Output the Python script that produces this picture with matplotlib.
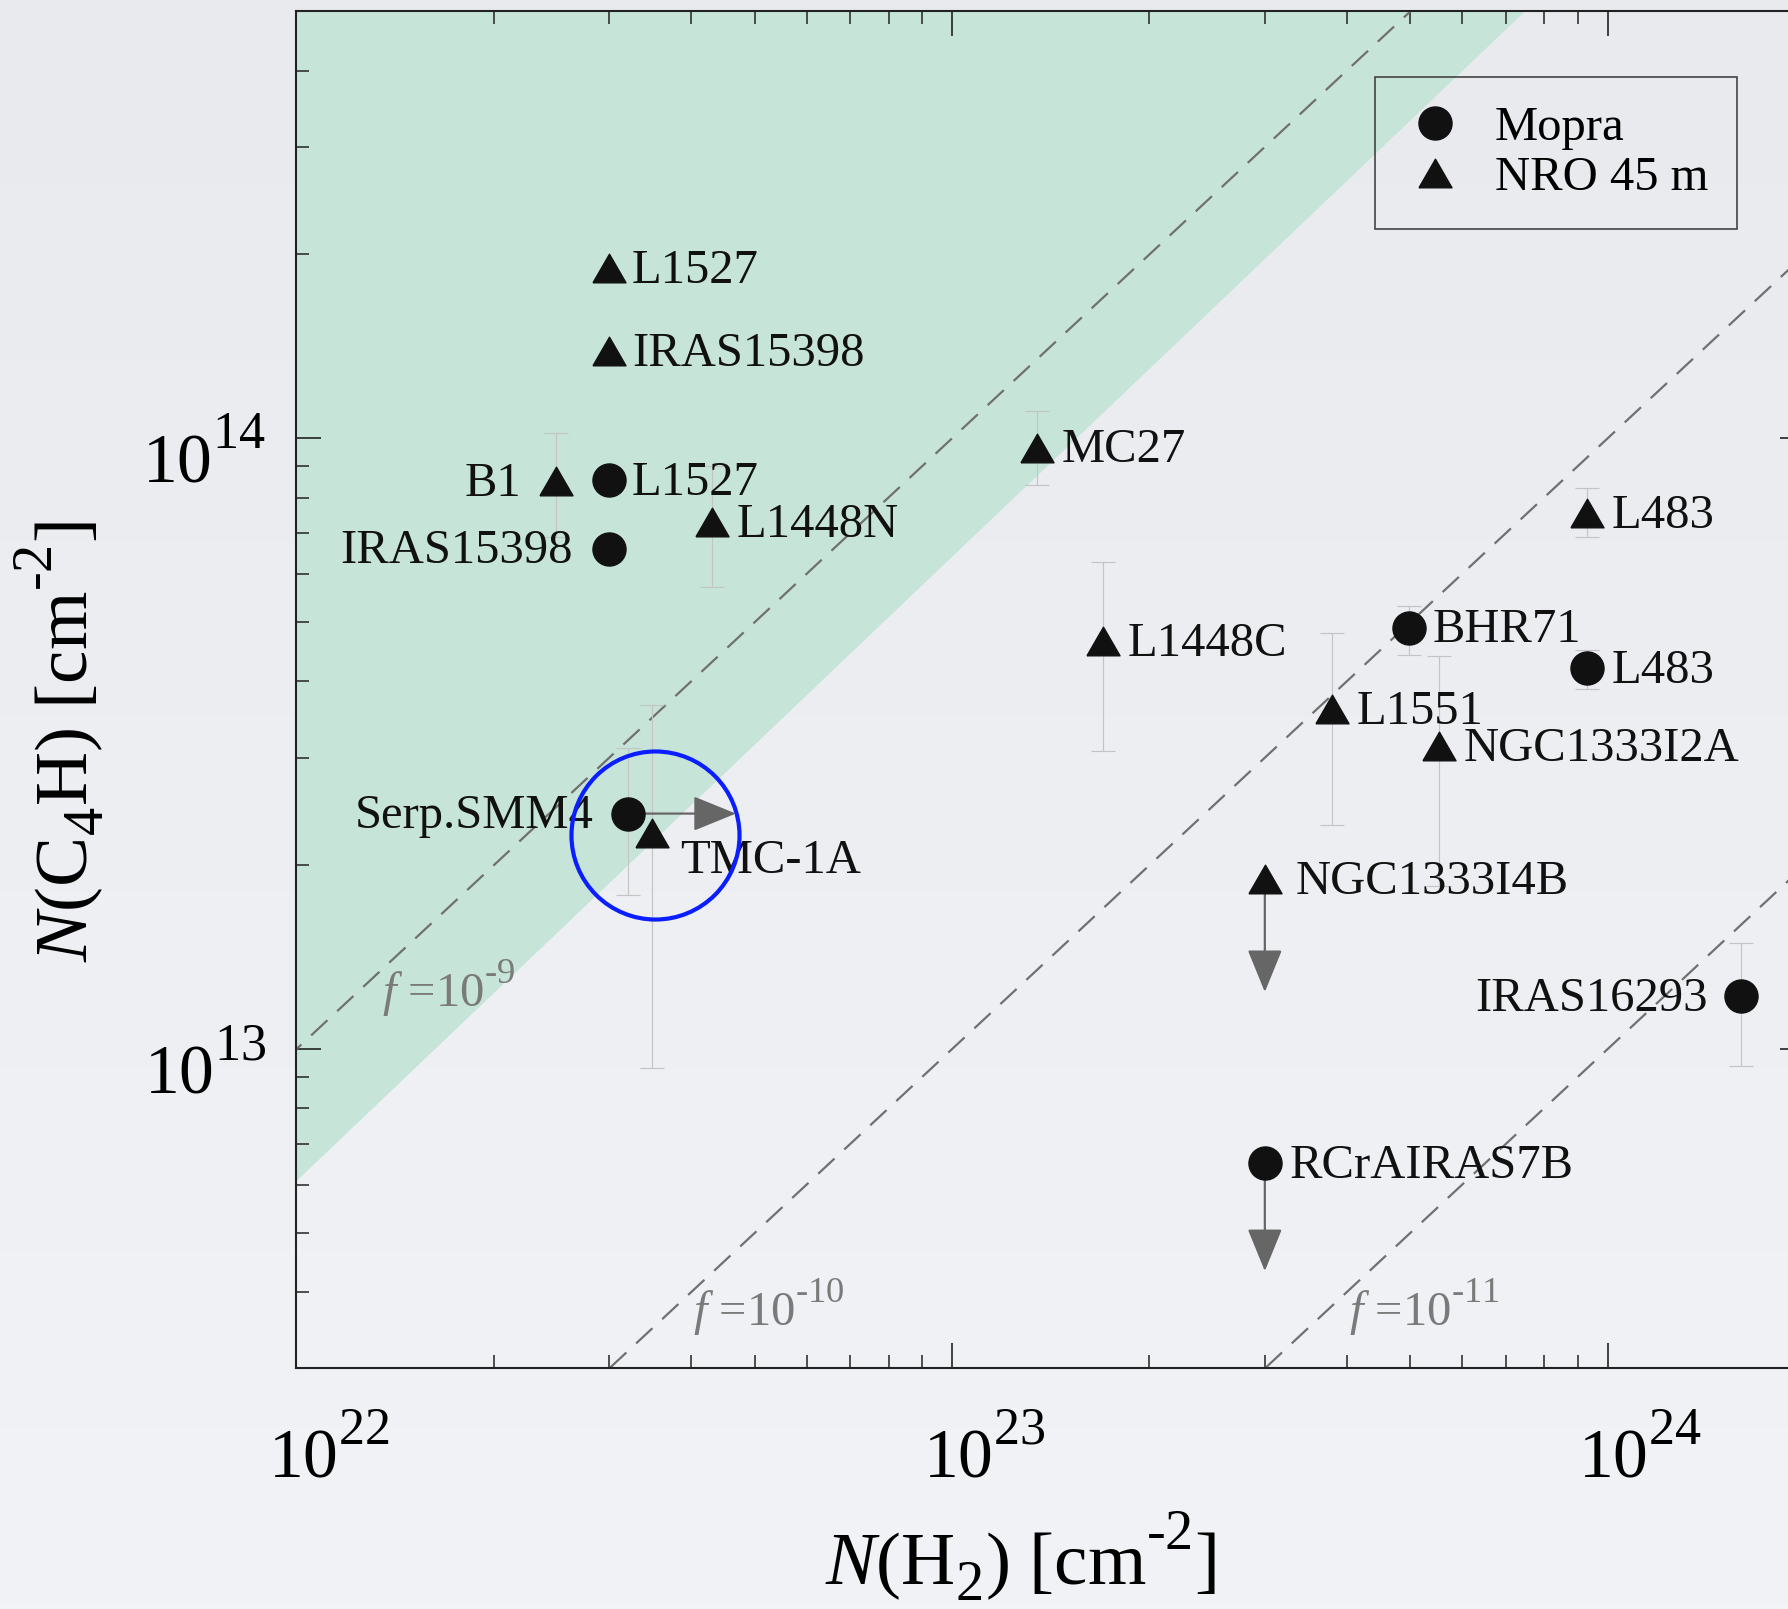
import numpy as np
import matplotlib
matplotlib.use("Agg")
import matplotlib.pyplot as plt
import matplotlib.transforms as mtransforms
import matplotlib._mathtext as _mt
from matplotlib.colors import LinearSegmentedColormap
from matplotlib.ticker import FixedLocator, FuncFormatter, NullFormatter, LogLocator

plt.rcParams['font.family'] = ['Liberation Serif', 'DejaVu Serif']
plt.rcParams['mathtext.fontset'] = 'custom'
plt.rcParams['mathtext.rm'] = 'Liberation Serif'
plt.rcParams['mathtext.it'] = 'Liberation Serif:italic'
plt.rcParams['mathtext.bf'] = 'Liberation Serif:bold'
# larger, higher superscripts (closer to the reference typesetting)
_mt.SHRINK_FACTOR = 0.75
_mt.FontConstantsBase.sup1 = 1.05
_mt.FontConstantsBase.sub1 = 0.45

nan = np.nan

# ---------------- data ----------------
# Mopra (circles)
mopra_names = ['L1527', 'IRAS15398', 'Serp.SMM4', 'BHR71', 'L483', 'RCrAIRAS7B', 'IRAS16293']
mopra_nh2 = [3.0e22, 3.0e22, 3.2e22, 4.97e23, 9.3e23, 3.0e23, 1.6e24]
mopra_nc4h = [8.55e13, 6.6e13, 2.43e13, 4.9e13, 4.2e13, 6.5e12, 1.22e13]
mopra_lo = [nan, nan, 1.79e13, 4.42e13, 3.88e13, nan, 9.4e12]
mopra_hi = [nan, nan, 3.11e13, 5.32e13, 4.5e13, nan, 1.49e13]

# NRO 45 m (triangles)
nro_names = ['L1527', 'IRAS15398', 'B1', 'L1448N', 'MC27', 'L1448C', 'L483',
             'L1551', 'NGC1333I2A', 'NGC1333I4B', 'TMC-1A']
nro_nh2 = [3.0e22, 3.0e22, 2.49e22, 4.3e22, 1.35e23, 1.70e23, 9.3e23,
           3.8e23, 5.53e23, 3.0e23, 3.49e22]
nro_nc4h = [1.9e14, 1.39e14, 8.5e13, 7.3e13, 9.66e13, 4.66e13, 7.55e13,
            3.6e13, 3.13e13, 1.9e13, 2.26e13]
nro_lo = [nan, nan, 6.9e13, 5.7e13, 8.4e13, 3.08e13, 6.9e13, 2.33e13, 1.85e13, nan, 9.3e12]
nro_hi = [nan, nan, 1.02e14, 9.0e13, 1.11e14, 6.27e13, 8.3e13, 4.8e13, 4.4e13, nan, 3.66e13]

# limits: upper limits in N(C4H) (arrow tips), lower limit in N(H2)
upper_limit_names = ['NGC1333I4B', 'RCrAIRAS7B']
upper_limit_tips = [1.24e13, 4.33e12]
lower_limit_names = ['Serp.SMM4']
lower_limit_tips = [4.68e22]

# abundance lines f = N(C4H)/N(H2)
f_values = [1e-9, 1e-10, 1e-11]
f_labels = ['$f$ =10$^{\u2010 9}$', '$f$ =10$^{\u2010 10}$', '$f$ =10$^{\u2010 11}$']
f_label_nh2 = [1.35e22, 4.03e22, 4.03e23]
f_label_nc4h = [1.17e13, 3.52e12, 3.52e12]

# shaded region boundary: N(C4H) = norm * (N(H2)/1e22)**slope
green_norm = 6.08e12
green_slope = 1.022

# highlighted source
highlight_nh2 = 3.52e22
highlight_nc4h = 2.24e13

# ---------------- figure ----------------
fig = plt.figure(figsize=(17.88, 16.09), dpi=100)

bg = fig.add_axes([0, 0, 1, 1], zorder=-10)
cmap = LinearSegmentedColormap.from_list('bg', ['#e8eaee', '#f2f3f6'])
bg.imshow(np.linspace(0, 1, 256).reshape(-1, 1), aspect='auto', cmap=cmap,
          extent=[0, 1, 0, 1], origin='upper')
bg.axis('off')

ax = fig.add_axes([0.1658, 0.1495, 0.8437, 0.8434])
ax.set_facecolor('none')
ax.set_xscale('log')
ax.set_yscale('log')
ax.set_xlim(1e22, 2e24)
ax.set_ylim(3e12, 5e14)

xx = np.logspace(21.5, 24.6, 300)
ax.fill_between(xx, green_norm * (xx / 1e22) ** green_slope, 1e16,
                color='#c6e5d8', lw=0, zorder=1)

for f in f_values:
    ax.plot(xx, f * xx, color='#707070', lw=1.6, dashes=(10, 6), zorder=2)

for lab, xl, yl in zip(f_labels, f_label_nh2, f_label_nc4h):
    ax.text(xl, yl, lab, color='#7a7a7a', fontsize=35, ha='left', va='baseline', zorder=3)

# error bars
def draw_err(xs, ys, lo, hi):
    xs = np.array(xs); ys = np.array(ys); lo = np.array(lo); hi = np.array(hi)
    m = ~np.isnan(lo)
    ax.errorbar(xs[m], ys[m], yerr=[ys[m] - lo[m], hi[m] - ys[m]], fmt='none',
                ecolor='#c4c4c4', elinewidth=0.85, capsize=8.3, capthick=0.85, zorder=3)

draw_err(mopra_nh2, mopra_nc4h, mopra_lo, mopra_hi)
draw_err(nro_nh2, nro_nc4h, nro_lo, nro_hi)

tri = [(-1, -0.866), (1, -0.866), (0, 0.866), (-1, -0.866)]
ax.plot(mopra_nh2, mopra_nc4h, 'o', ms=23.8, color='#111111', ls='none', zorder=5, label='Mopra')
ax.plot(nro_nh2, nro_nc4h, marker=tri, ms=23.8, color='#111111', ls='none', zorder=5, label='NRO 45 m')

# limit arrows
src_lookup = {('M', n): (x, y) for n, x, y in zip(mopra_names, mopra_nh2, mopra_nc4h)}
src_lookup.update({('N', n): (x, y) for n, x, y in zip(nro_names, nro_nh2, nro_nc4h)})

aprops = dict(arrowstyle='-|>,head_length=1.35,head_width=0.55', color='#666666',
              lw=1.6, shrinkA=0, shrinkB=0, mutation_scale=20)
for n, tip in zip(upper_limit_names, upper_limit_tips):
    key = ('N', n) if ('N', n) in src_lookup else ('M', n)
    x0, y0 = src_lookup[key]
    ax.annotate('', xy=(x0, tip), xytext=(x0, y0), arrowprops=aprops, zorder=4)
for n, tip in zip(lower_limit_names, lower_limit_tips):
    x0, y0 = src_lookup[('M', n)]
    ax.annotate('', xy=(tip, y0), xytext=(x0, y0), arrowprops=aprops, zorder=4)

# point labels: (dx, dy) in points, alignment
R = (17.6, -2, 'left')
mopra_place = {'L1527': (16.4, -2, 'left'), 'IRAS15398': (-26, -2, 'right'),
               'Serp.SMM4': (-24.6, -2, 'right'), 'BHR71': R, 'L483': R,
               'RCrAIRAS7B': R, 'IRAS16293': (-24.6, -2, 'right')}
nro_place = {'L1527': (16.4, -2, 'left'), 'IRAS15398': (16.4, -2, 'left'),
             'B1': (-25.4, -2, 'right'), 'L1448N': R, 'MC27': R, 'L1448C': R,
             'L483': R, 'L1551': R, 'NGC1333I2A': R, 'NGC1333I4B': (22, -2, 'left'),
             'TMC-1A': (19.7, -20.5, 'left')}
for names, xs, ys, place in [(mopra_names, mopra_nh2, mopra_nc4h, mopra_place),
                             (nro_names, nro_nh2, nro_nc4h, nro_place)]:
    for n, x, y in zip(names, xs, ys):
        dx, dy, ha = place[n]
        ax.annotate(n, xy=(x, y), xytext=(dx, dy), textcoords='offset points',
                    ha=ha, va='center', fontsize=35, color='#111111', zorder=6)

# highlight circle
ax.plot([highlight_nh2], [highlight_nc4h], 'o', ms=121, mfc='none', mec='#0a1eff',
        mew=3.0, zorder=7, clip_on=False)

# legend
leg = ax.legend(loc='upper right', bbox_to_anchor=(0.955, 0.952), fontsize=35,
                frameon=True, fancybox=False, edgecolor='#444444', facecolor='none',
                borderpad=0.6, handlelength=1.26, handletextpad=0.6, labelspacing=0.12,
                borderaxespad=0, numpoints=1, framealpha=1)
leg.get_frame().set_linewidth(1.2)

# axes styling
for s in ax.spines.values():
    s.set_color('#222222')
    s.set_linewidth(1.5)

ax.xaxis.set_major_locator(FixedLocator([1e22, 1e23, 1e24]))
ax.yaxis.set_major_locator(FixedLocator([1e13, 1e14]))
ax.xaxis.set_minor_locator(LogLocator(base=10, subs=np.arange(2, 10)))
ax.yaxis.set_minor_locator(LogLocator(base=10, subs=np.arange(2, 10)))
fmt = FuncFormatter(lambda v, p: r'$10^{%d}$' % int(round(np.log10(v))))
ax.xaxis.set_major_formatter(fmt)
ax.yaxis.set_major_formatter(fmt)
ax.xaxis.set_minor_formatter(NullFormatter())
ax.yaxis.set_minor_formatter(NullFormatter())

ax.tick_params(which='both', direction='in', top=True, right=True, color='#222222')
ax.tick_params(which='major', length=18, width=1.2, labelsize=50)
ax.tick_params(which='minor', length=9.5, width=1.1)
ax.tick_params(axis='x', which='major', pad=37)
ax.tick_params(axis='y', which='major', pad=22)

xoff = mtransforms.ScaledTranslation(23 / 72, 0, fig.dpi_scale_trans)
for lab in ax.get_xticklabels():
    lab.set_transform(lab.get_transform() + xoff)
yoff = mtransforms.ScaledTranslation(0, -11 / 72, fig.dpi_scale_trans)
for lab in ax.get_yticklabels():
    lab.set_transform(lab.get_transform() + yoff)

ax.set_xlabel('$N$(H$_2$) [cm$^{\u2010 2}$]', fontsize=54)
ax.xaxis.set_label_coords(0.480, -0.1596)
ax.xaxis.label.set_va('baseline')
ax.set_ylabel('$N$(C$_4$H) [cm$^{\u2010 2}$]', fontsize=54)
ax.yaxis.set_label_coords(-0.1574, 0.4623)
ax.yaxis.label.set_va('center')

fig.savefig('out.png', dpi=100)
